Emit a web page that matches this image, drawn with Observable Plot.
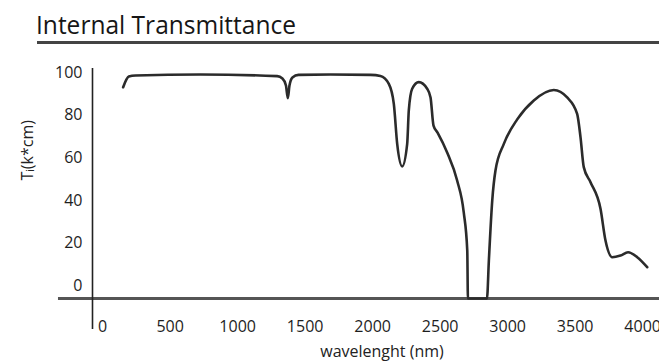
<!DOCTYPE html>
<html>
<head>
<meta charset="utf-8">
<script src="https://cdn.jsdelivr.net/npm/d3@7"></script>
<script src="https://cdn.jsdelivr.net/npm/@observablehq/plot@0.6"></script>
<style>
  html, body { margin: 0; padding: 0; background: #fff; overflow: hidden; }
  #wrap { position: relative; width: 659px; height: 364px; font-family: "Open Sans", sans-serif; color: #222; }
  #title { position: absolute; left: 36px; top: 11px; font-size: 26px; line-height: 26px; font-weight: 500; white-space: nowrap; transform-origin: left center; display: inline-block; color: #161616; }
  #rule { position: absolute; left: 37px; right: 0; top: 41px; height: 3px; background: #444; }
  #chart { position: absolute; left: 0; top: 50px; }
</style>
</head>
<body>
<div id="wrap">
  <div id="title">Internal Transmittance</div>
  <div id="rule"></div>
  <div id="chart"></div>
</div>
<script>
// Data
const wavelength = [152, 194, 244, 725, 1293, 1332, 1358, 1372, 1384, 1406, 1451, 1688, 1984, 2058,
  2120, 2157, 2182, 2219, 2256, 2268, 2293, 2342, 2404, 2429, 2451, 2481, 2552, 2626, 2675, 2701,
  2706, 2847, 2861, 2886, 2910, 2972, 3071, 3194, 3342, 3441, 3515, 3540, 3564, 3614, 3688, 3725,
  3775, 3836, 3892, 3960, 4034];
const transmittance = [93.2, 98.2, 98.7, 99.2, 98.4, 97.3, 94, 88.1, 94, 97.8, 99, 99.2, 99, 98.5,
  94.8, 85.4, 66.6, 56, 66.6, 82.3, 92.5, 95.6, 92.5, 88.4, 75.2, 71.9, 62.6, 49.4, 34.4, 16.5,
  -6, -6, 11.8, 40, 54.1, 66.6, 78.1, 87, 91.9, 88.4, 80.7, 69.7, 55.7, 48.6, 36.1, 21.2,
  13.4, 14.2, 15.7, 13.4, 8.7];
const xTicks = [0, 500, 1000, 1500, 2000, 2500, 3000, 3500, 4000];
const yTicks = [0, 20, 40, 60, 80, 100];
const xLabel = "wavelenght (nm)";
const yLabel = "T\u1D62(k*cm)";

const rows = wavelength.map((w, i) => ({w, t: transmittance[i]}));

const chart = Plot.plot({
  width: 659,
  height: 314,
  marginLeft: 92,
  marginRight: 0,
  marginTop: 18,
  marginBottom: 66,
  style: {fontFamily: "Open Sans, sans-serif", fontSize: "16px", color: "#1e1e1e", background: "transparent", overflow: "visible"},
  x: {domain: [-75, 4125]},
  y: {domain: [-6, 102]},
  marks: [
    Plot.axisX({ticks: xTicks, tickSize: 0, tickPadding: 22, label: null, fontWeight: 500, tickFormat: d => String(d)}),
    Plot.axisY({ticks: yTicks, tickSize: 0, tickPadding: 10, label: null, fontWeight: 500}),
    Plot.ruleY([-6], {x1: -327, x2: 4125, stroke: "#555", strokeWidth: 3, clip: false}),
    Plot.ruleX([-75], {y1: 102, y2: -20.6, stroke: "#222", strokeWidth: 1.6, clip: false}),
    Plot.line(rows, {x: "w", y: "t", curve: "monotone-x", stroke: "#2b2b2b", strokeWidth: 2.6, strokeLinejoin: "round", strokeLinecap: "round"}),
    Plot.text([xLabel], {frameAnchor: "bottom", dx: 6, dy: 58, fontSize: 16, fill: "#222"}),
    Plot.text([yLabel], {frameAnchor: "left", dx: -65, dy: -3, rotate: -90, fontSize: 16, fill: "#222"})
  ]
});
document.getElementById("chart").appendChild(chart);

// fit title width to reference (~260px)
const t = document.getElementById("title");
const wdt = t.getBoundingClientRect().width;
t.style.transform = `scaleX(${260 / wdt})`;
</script>
</body>
</html>
